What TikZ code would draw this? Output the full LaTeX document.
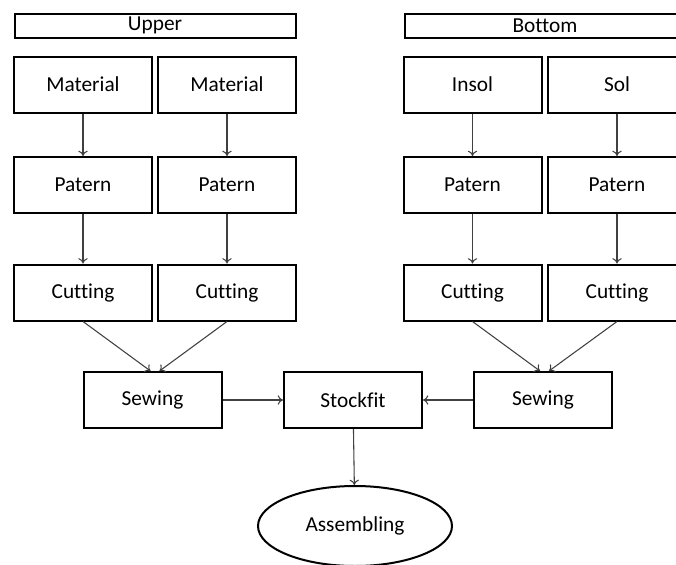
\documentclass[tikz,border=0pt]{standalone}
\usepackage{fontspec}
\setmainfont{Carlito}[Ligatures=NoCommon]
\usetikzlibrary{arrows.meta,shapes.geometric}
\begin{document}
\begin{tikzpicture}[x=0.75pt,y=-0.75pt,
  box/.style={draw=black,line width=1.5pt,minimum width=138*0.75pt,minimum height=56*0.75pt,inner sep=0pt,font=\fontsize{16}{19}\selectfont},
  hdr/.style={draw=black,line width=1.5pt,minimum width=281*0.75pt,minimum height=24*0.75pt,inner sep=0pt,font=\fontsize{16}{19}\selectfont},
  ell/.style={ellipse,draw=black,line width=1.5pt,minimum width=194*0.75pt,minimum height=80*0.75pt,inner sep=0pt,font=\fontsize{16}{19}\selectfont},
  arr/.style={draw={rgb,255:red,64;green,64;blue,64},line width=0.8pt,-{To[length=4pt,width=7pt]}}]
\clip (0,0) rectangle (676,565);
\useasboundingbox (0,0) rectangle (676,565);
\node[hdr] (uh) at (155,25.5) {Upper};
\node[hdr] (bh) at (545,25.5) {Bottom};
\node[box] (m1) at (83,84.5) {Material};
\node[box] (m2) at (227,84.5) {Material};
\node[box] (m3) at (472.5,84.5) {Insol};
\node[box] (m4) at (617,84.5) {Sol};
\node[box] (p1) at (83,185) {Patern};
\node[box] (p2) at (227,185) {Patern};
\node[box] (p3) at (472.5,185) {Patern};
\node[box] (p4) at (617,185) {Patern};
\node[box] (c1) at (83,292.5) {Cutting};
\node[box] (c2) at (227,292.5) {Cutting};
\node[box] (c3) at (472.5,292.5) {Cutting};
\node[box] (c4) at (617,292.5) {Cutting};
\node[box] (s1) at (152.5,400) {Sewing};
\node[box] (st) at (353,400) {Stockfit};
\node[box] (s2) at (543,400) {Sewing};
\node[ell] (as) at (355,526) {Assembling};
\foreach \i in {1,2,3,4}{
  \draw[arr] (m\i) -- (p\i);
  \draw[arr] (p\i) -- (c\i);
}
\draw[arr] (c1.south) -- ([xshift=-2*0.75pt]s1.north);
\draw[arr] (c2.south) -- ([xshift=7*0.75pt]s1.north);
\draw[arr] (c3.south) -- ([xshift=-3*0.75pt]s2.north);
\draw[arr] (c4.south) -- ([xshift=6*0.75pt]s2.north);
\draw[arr] (s1) -- (st);
\draw[arr] (s2) -- (st);
\draw[arr] (st) -- (as);
\end{tikzpicture}
\end{document}
